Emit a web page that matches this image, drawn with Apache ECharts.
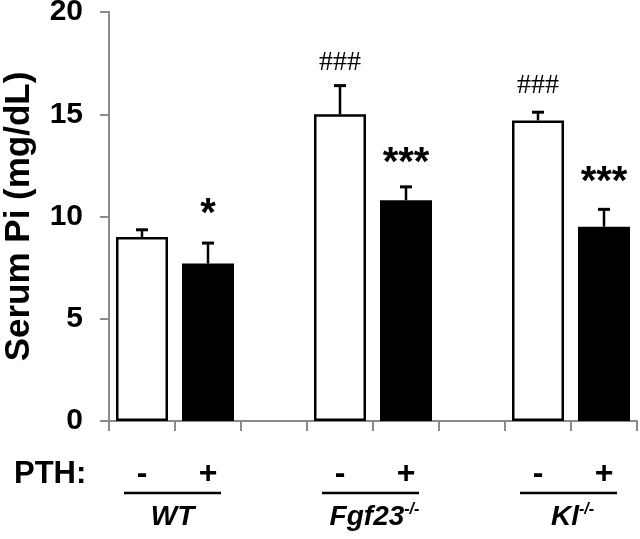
<!DOCTYPE html>
<html>
<head>
<meta charset="utf-8">
<script src="https://cdn.jsdelivr.net/npm/echarts@6/dist/echarts.min.js"></script>
<style>
html,body{margin:0;padding:0;background:#fff;}
#chart{width:640px;height:539px;}
</style>
</head>
<body>
<div id="chart"></div>
<script>
// ---- data ----
const categories = ['WT-', 'WT+', 'gap1', 'Fgf23-', 'Fgf23+', 'gap2', 'Kl-', 'Kl+'];
const pthLabels = ['-', '+', '', '-', '+', '', '-', '+'];
const means = [9.0, 7.7, null, 15.0, 10.8, null, 14.7, 9.5];
const errors = [0.35, 1.0, null, 1.4, 0.65, null, 0.4, 0.85];
const treated = [false, true, null, false, true, null, false, true];
const sigMarks = ['', '*', '', '###', '***', '', '###', '***'];
const sigY = [null, 10.5, null, 17.5, 13.0, null, 16.4, 12.1];
const groupNames = ['WT', 'Fgf23', 'Kl'];
const groupSup = ['', '-/-', '-/-'];
const groupFirst = [0, 3, 6];
const groupLast = [1, 4, 7];
const yTicks = [0, 5, 10, 15, 20];

const FONT = '"Liberation Sans", Arial, sans-serif';
const AXIS_GRAY = '#8a8a8a';

const barData = means.map((v, i) => v === null ? null : {
  value: v,
  itemStyle: treated[i]
    ? { color: '#000', borderColor: '#000', borderWidth: 0 }
    : { color: '#fff', borderColor: '#000', borderWidth: 2.5 }
});
const errData = [];
means.forEach((v, i) => { if (v !== null) errData.push([i, v, errors[i]]); });
const sigData = [];
sigMarks.forEach((s, i) => { if (s) sigData.push([i, sigY[i], s]); });
const groupData = groupNames.map((g, i) => [groupFirst[i], groupLast[i], i]);

const chart = echarts.init(document.getElementById('chart'), null, { renderer: 'canvas' });
chart.setOption({
  animation: false,
  backgroundColor: '#fff',
  textStyle: { fontFamily: FONT },
  grid: { left: 109, right: 3, top: 12, bottom: 118, containLabel: false, outerBoundsMode: 'none' },
  xAxis: {
    type: 'category',
    data: categories,
    axisLine: { lineStyle: { color: AXIS_GRAY, width: 2 } },
    axisTick: { show: true, length: 10, interval: 0, alignWithLabel: false, lineStyle: { color: AXIS_GRAY, width: 2 } },
    axisLabel: {
      interval: 0, margin: 37,
      formatter: (v, idx) => pthLabels[idx],
      color: '#000', fontSize: 32, fontWeight: 'bold', fontFamily: FONT
    }
  },
  yAxis: {
    type: 'value', min: 0, max: 20, interval: 5,
    splitLine: { show: false },
    axisLine: { show: true, lineStyle: { color: AXIS_GRAY, width: 2 } },
    axisTick: { show: true, length: 9, lineStyle: { color: AXIS_GRAY, width: 2 } },
    axisLabel: { margin: 26, color: '#000', fontSize: 30, fontWeight: 'bold', fontFamily: FONT,
      formatter: v => yTicks.includes(v) ? String(v) : '' },
    name: 'Serum Pi (mg/dL)',
    nameLocation: 'middle',
    nameGap: 72,
    nameTextStyle: { color: '#000', fontSize: 35, fontWeight: 'bold', fontFamily: FONT }
  },
  graphic: [{
    type: 'text', left: 14, top: 459,
    style: { text: 'PTH:', fill: '#000', font: 'bold 31px ' + FONT }
  }],
  series: [
    {
      type: 'bar',
      data: barData,
      barWidth: 52,
      z: 2
    },
    {
      type: 'custom',
      data: errData,
      z: 3,
      renderItem: (params, api) => {
        const x = api.value(0), m = api.value(1), e = api.value(2);
        const base = api.coord([x, m]);
        const top = api.coord([x, m + e]);
        const half = 6;
        return {
          type: 'group',
          children: [
            { type: 'line', shape: { x1: base[0], y1: base[1], x2: top[0], y2: top[1] },
              style: { stroke: '#000', lineWidth: 2.5 } },
            { type: 'line', shape: { x1: top[0] - half, y1: top[1], x2: top[0] + half, y2: top[1] },
              style: { stroke: '#000', lineWidth: 3 } }
          ]
        };
      }
    },
    {
      type: 'custom',
      data: sigData,
      z: 4,
      renderItem: (params, api) => {
        const p = api.coord([api.value(0), api.value(1)]);
        const s = sigData[params.dataIndex][2];
        const isHash = s.indexOf('#') >= 0;
        return {
          type: 'text',
          x: p[0],
          y: isHash ? p[1] : p[1] + 9,
          style: {
            text: s,
            align: 'center',
            verticalAlign: 'middle',
            fill: '#000',
            font: isHash ? 'normal 28px "Liberation Serif", "Times New Roman", serif'
                         : 'bold 40px ' + FONT
          }
        };
      }
    },
    {
      type: 'custom',
      data: groupData,
      clip: false,
      z: 5,
      renderItem: (params, api) => {
        const a = api.coord([api.value(0), 0]);
        const b = api.coord([api.value(1), 0]);
        const gi = api.value(2);
        const x1 = a[0] - 18, x2 = b[0] + 13;
        const yLine = a[1] + 72;
        const sup = groupSup[gi];
        return {
          type: 'group',
          children: [
            { type: 'line', shape: { x1: x1, y1: yLine, x2: x2, y2: yLine },
              style: { stroke: '#000', lineWidth: 2.5 } },
            { type: 'text', x: (x1 + x2) / 2 + (sup ? 4 : 0), y: yLine + 24,
              style: {
                text: sup ? '{g|' + groupNames[gi] + '}{s|' + sup + '}' : '{g|' + groupNames[gi] + '}',
                align: 'center', verticalAlign: 'middle',
                rich: {
                  g: { fontSize: 28, fontWeight: 'bold', fontStyle: 'italic', fontFamily: FONT, fill: '#000', color: '#000', lineHeight: 30 },
                  s: { fontSize: 16, fontWeight: 'bold', fontStyle: 'italic', fontFamily: FONT, fill: '#000', color: '#000', verticalAlign: 'top', lineHeight: 30, padding: [0, 0, 12, 0] }
                }
              } }
          ]
        };
      }
    }
  ]
});
</script>
</body>
</html>
